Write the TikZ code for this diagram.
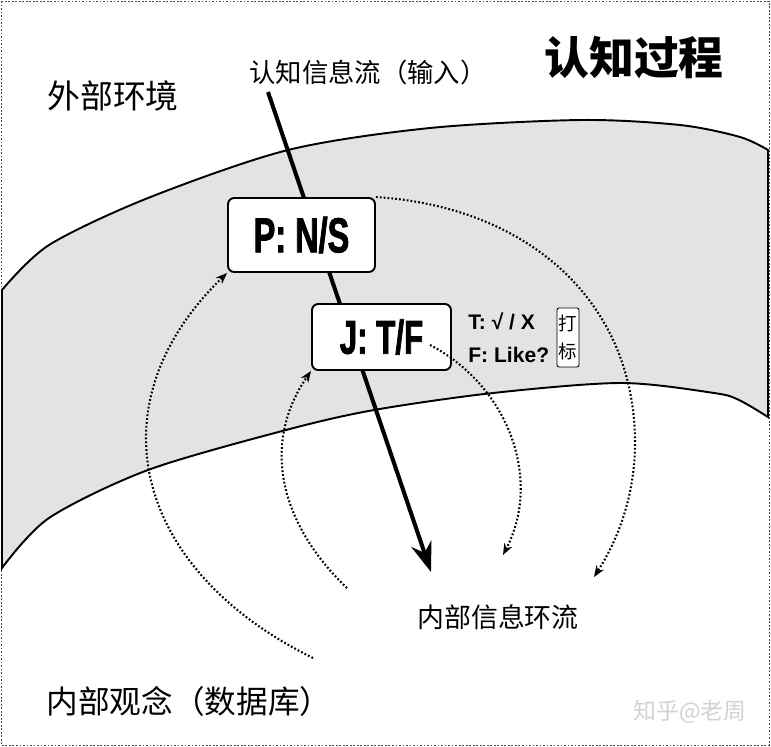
\documentclass[tikz,border=0pt]{standalone}
\usepackage{fontspec}
\setmainfont{Liberation Sans}
\newfontfamily\cjk{Noto Sans CJK SC}
\newfontfamily\narrowbold{Liberation Sans}[FakeStretch=0.66, FakeBold=1.6]
\usetikzlibrary{arrows.meta}
\definecolor{bandgray}{RGB}{227,227,227}

\begin{document}
\begin{tikzpicture}[x=0.02cm, y=-0.02cm,
  stagebox/.style={draw, line width=1.1pt, rounded corners=3.5pt, fill=white, inner sep=0pt},
  loopflow/.style={line width=1.2pt, dash pattern=on 1pt off 1.2pt, -{Stealth[length=6.5pt,width=5pt]}},
  cjklabel/.style={inner sep=0pt, font=\cjk}]
\useasboundingbox (0,0) rectangle (771,747);
\draw[gray!60!black, line width=0.5pt, dash pattern=on 1pt off 1pt] (1,1) rectangle (769,745);

% band between outside and inside
\filldraw[fill=bandgray, line width=1.1pt] plot[smooth] coordinates {(2,290) (49,245) (148,198) (288,150) (430,128) (581,120) (680,125) (740,137) (768,150)}
  -- (768,417) -- plot[smooth] coordinates {(768,417) (739,400) (714,393) (621,383) (493,393) (374,410) (286,430) (148,470) (49,518) (2,568)} -- cycle;

% input flow
\coordinate (flowin) at (268,92);
\coordinate (flowout) at (431,572);
\draw[line width=2.3pt, -{Stealth[length=17pt,width=12pt]}] (flowin) -- (flowout);

\node[stagebox, minimum width=2.94cm, minimum height=1.48cm] (P) at (301.5,235) {\narrowbold\bfseries\fontsize{28}{28}\selectfont P: N/S};
\node[stagebox, minimum width=2.78cm, minimum height=1.32cm] (J) at (381.5,337) {\narrowbold\bfseries\fontsize{27}{27}\selectfont J: T/F};
\node[anchor=west, inner sep=0pt, font=\bfseries\fontsize{12}{12}\selectfont] (Tline) at (468,321) {T: √ / X};
\node[anchor=west, inner sep=0pt, font=\bfseries\fontsize{12}{12}\selectfont] (Fline) at (468,355) {F: Like?};
\node[draw, line width=0.5pt, rounded corners=1.2pt, fill=white, minimum width=0.44cm, minimum height=1.18cm, inner sep=0pt, align=center, font=\cjk\fontsize{10.5}{16}\selectfont] (mark) at (568,337.5) {打\\标};

% inner loops
\coordinate (outerstart) at (313,658);
\coordinate (innerstart) at (347,588);
\coordinate (outerend) at (594,577);
\coordinate (innerback) at (430,345);
\coordinate (innerend) at (503,555);
\draw[loopflow] (outerstart) .. controls (136,571) and (90,406) .. (P.south west);
\draw[loopflow] (innerstart) .. controls (281,525) and (260,445) .. (J.south west);
\draw[loopflow] (P.north east) .. controls (530,207) and (635,303) .. (635,443) .. controls (635,490) and (621,535) .. (outerend);
\draw[loopflow] (innerback) .. controls (507,385) and (543,478) .. (innerend);

\node[cjklabel, font=\cjk\bfseries\fontsize{25.5}{27}\selectfont] (title) at (634,58) {认知过程};
\node[cjklabel, font=\cjk\fontsize{15}{16}\selectfont] (inlabel) at (368,72) {认知信息流（输入）};
\node[cjklabel, font=\cjk\fontsize{18.7}{20}\selectfont] (outside) at (113,96) {外部环境};
\node[cjklabel, font=\cjk\fontsize{15.3}{16}\selectfont] (loop) at (498,617) {内部信息环流};
\node[cjklabel, font=\cjk\fontsize{18}{19}\selectfont] (inside) at (189,701) {内部观念（数据库）};
\node[cjklabel, font=\cjk\fontsize{13}{14}\selectfont, text=gray!35] (mark2) at (690,712) {知乎@老周};
\end{tikzpicture}
\end{document}
